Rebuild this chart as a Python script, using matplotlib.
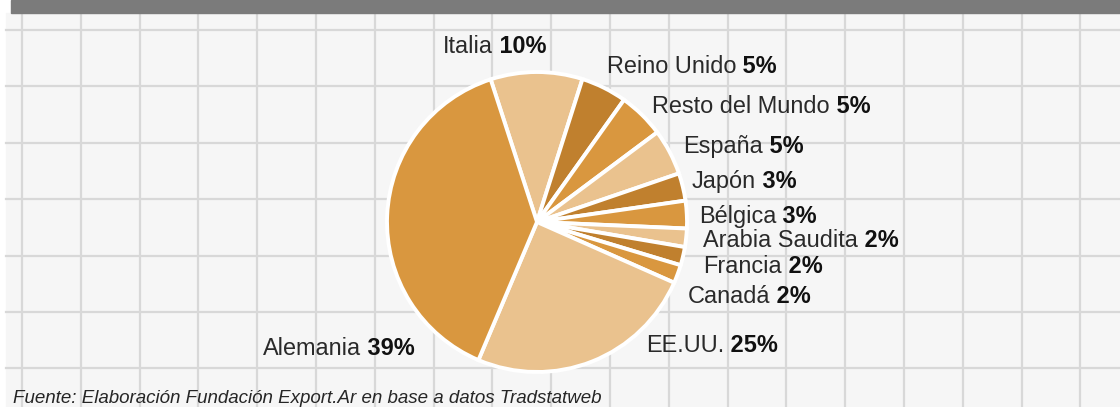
import numpy as np
import matplotlib
matplotlib.use('Agg')
import matplotlib.pyplot as plt
from matplotlib.patches import Rectangle

plt.rcParams['font.family'] = ['Liberation Sans', 'DejaVu Sans']

# data, clockwise from the top
countries = ['Italia', 'Reino Unido', 'Resto del Mundo', 'España', 'Japón', 'Bélgica',
             'Arabia Saudita', 'Francia', 'Canadá', 'EE.UU.', 'Alemania']
shares = [10, 5, 5, 5, 3, 3, 2, 2, 2, 25, 39]
source = 'Fuente: Elaboración Fundación Export.Ar en base a datos Tradstatweb'

LIGHT, MID, DARK = '#eac28e', '#d9973f', '#c0802e'
colors = [LIGHT, DARK, MID, LIGHT, DARK, MID, LIGHT, DARK, MID, LIGHT, MID]

# label anchors: left x, baseline y (pixels, from top left)
label_pos = [(443, 53), (607, 73), (652, 113), (683, 153), (692, 188), (699, 223),
             (703, 247), (703, 273), (688, 303), (646, 352), (263, 355)]

W, H = 1120, 407
FS = 16.9  # ~23.5 px

fig = plt.figure(figsize=(W / 100, H / 100), dpi=100)
fig.patch.set_facecolor('white')

# background: grid paper + grey header
bg = fig.add_axes([0, 0, 1, 1])
bg.set_xlim(0, W)
bg.set_ylim(H, 0)
bg.axis('off')
bg.add_patch(Rectangle((6, 13), W - 6, H - 13, color='#f6f6f6', zorder=0))
for x in np.arange(22, W, 58.8):
    bg.plot([x, x], [13, H], color='#d8d8d8', lw=1.6, zorder=1)
for y in np.arange(30, H, 56.4):
    bg.plot([6, W], [y, y], color='#d8d8d8', lw=1.6, zorder=1)
bg.add_patch(Rectangle((11, 0), W - 11, 13, color='#7b7b7b', zorder=2))

# pie
R, cx, cy = 150, 537, 222
ax = fig.add_axes([(cx - R) / W, (H - cy - R) / H, 2 * R / W, 2 * R / H])
wedges, _ = ax.pie(shares, colors=colors, startangle=108, counterclock=False,
                   radius=1, wedgeprops=dict(edgecolor='white', linewidth=2.8))
ax.set_xlim(-1, 1)
ax.set_ylim(-1, 1)
for w in wedges:
    w.set_clip_on(False)

# labels: name normal + percent bold
for name, pct, (x, y) in zip(countries, shares, label_pos):
    t = bg.text(x, y, name, fontsize=FS, color='#2a2a2a', va='baseline', ha='left', zorder=5)
    bg.annotate(f' {pct}%', xy=(1, 0), xycoords=t, va='bottom', ha='left',
                fontsize=FS, fontweight='bold', color='#111111', zorder=5)

bg.text(13, 403, source, fontsize=13.5, style='italic', color='#262626',
        va='baseline', ha='left', zorder=5)

fig.savefig('out.png', dpi=100)
